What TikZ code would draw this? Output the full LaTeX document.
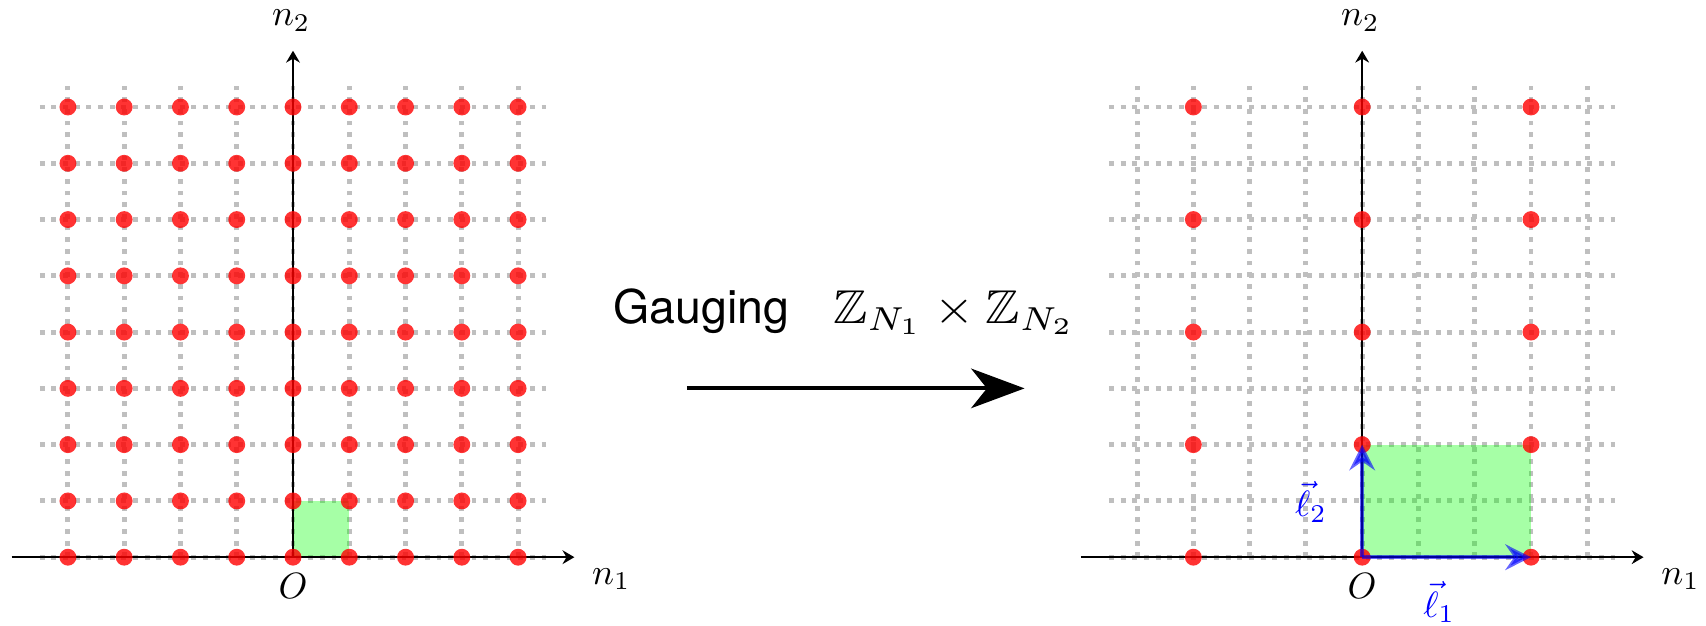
\documentclass[tikz,border=0pt]{standalone}
\usepackage{amssymb}
\usepackage{graphicx}
\usepackage{fontspec}
\newfontfamily\hv{TeX Gyre Heros}
\usetikzlibrary{arrows.meta}
\newcommand{\axl}[1]{{\normalsize\scalebox{1.85}{$#1$}}}
\newcommand{\gaugefont}{\fontsize{23.5}{28}\selectfont}
\begin{document}
\begin{tikzpicture}[x=1cm,y=1cm,
  gridline/.style={gray!50, line width=2.5pt, dash pattern=on 2.5pt off 3.4pt},
  site/.style={circle, fill=red, opacity=0.8, inner sep=0pt, minimum size=0.3cm},
  axis/.style={line width=0.9pt, -{Stealth[length=6pt,width=7pt,inset=2pt]}},
  axlab/.style={inner sep=0pt},
  cell/.style={fill=green, opacity=0.35},
  lvec/.style={draw=blue, opacity=0.6, line width=1.8pt, -{Stealth[length=13pt,width=13pt,inset=4.5pt]}},
  lvlab/.style={axlab, text=blue},
  bigarrow/.style={line width=2pt, -{Stealth[length=27pt,width=20pt,inset=8pt]}}
]
\useasboundingbox (-5.207,-1.205) rectangle (25.11,9.902);

% ---------- left panel ----------
\begin{scope}
  \foreach \j in {0,...,8} \draw[gridline] (-4.5,\j) -- (4.5,\j);
  \foreach \i in {-4,...,4} \draw[gridline] (\i,0) -- (\i,8.5);
  \fill[cell] (0,0) rectangle (1,1);
  \coordinate (LO) at (0,0);
  \coordinate (LXs) at (-5,0);
  \coordinate (LXe) at (5,0);
  \coordinate (LYe) at (0,9);
  \draw[axis] (LXs) -- (LXe);
  \draw[axis] (LO) -- (LYe);
  \foreach \i in {-4,...,4} \foreach \j in {0,...,8} \node[site] (L\i\j) at (\i,\j) {};
  \node[axlab, anchor=base west] (Ln1) at (5.31,-0.48) {\axl{n_1}};
  \node[axlab, anchor=base west] (Ln2) at (-0.38,9.44) {\axl{n_2}};
  \node[axlab, anchor=base] (LOlab) at (0,-0.74) {\axl{O}};
\end{scope}

% ---------- middle ----------
\node[anchor=base west, inner sep=0pt] (gauge) at (5.69,4.16)
  {\gaugefont{\hv Gauging}\hspace{0.95em}{\normalsize\scalebox{2.6}[2.4]{$\mathbb{Z}_{N_1}\times\mathbb{Z}_{N_2}$}}};
\coordinate (A0) at (7,3);
\coordinate (A1) at (13,3);
\draw[bigarrow] (A0) -- (A1);

% ---------- right panel ----------
\begin{scope}[shift={(19,0)}]
  \foreach \j in {0,...,8} \draw[gridline] (-4.5,\j) -- (4.5,\j);
  \foreach \i in {-4,...,4} \draw[gridline] (\i,0) -- (\i,8.5);
  \fill[cell] (0,0) rectangle (3,2);
  \coordinate (RO) at (0,0);
  \coordinate (RXs) at (-5,0);
  \coordinate (RXe) at (5,0);
  \coordinate (RYe) at (0,9);
  \draw[axis] (RXs) -- (RXe);
  \draw[axis] (RO) -- (RYe);
  \foreach \i in {-3,0,3} \foreach \j in {0,2,4,6,8} \node[site] (R\i\j) at (\i,\j) {};
  \draw[lvec] (R00.center) -- (R30.center);
  \draw[lvec] (R00.center) -- (R02.center);
  \node[lvlab, anchor=base] (l1) at (1.37,-1.07) {\axl{\vec{\ell}_1}};
  \node[lvlab, anchor=base] (l2) at (-0.91,0.72) {\axl{\vec{\ell}_2}};
  \node[axlab, anchor=base west] (Rn1) at (5.31,-0.48) {\axl{n_1}};
  \node[axlab, anchor=base west] (Rn2) at (-0.38,9.44) {\axl{n_2}};
  \node[axlab, anchor=base] (ROlab) at (0,-0.74) {\axl{O}};
\end{scope}
\end{tikzpicture}
\end{document}
